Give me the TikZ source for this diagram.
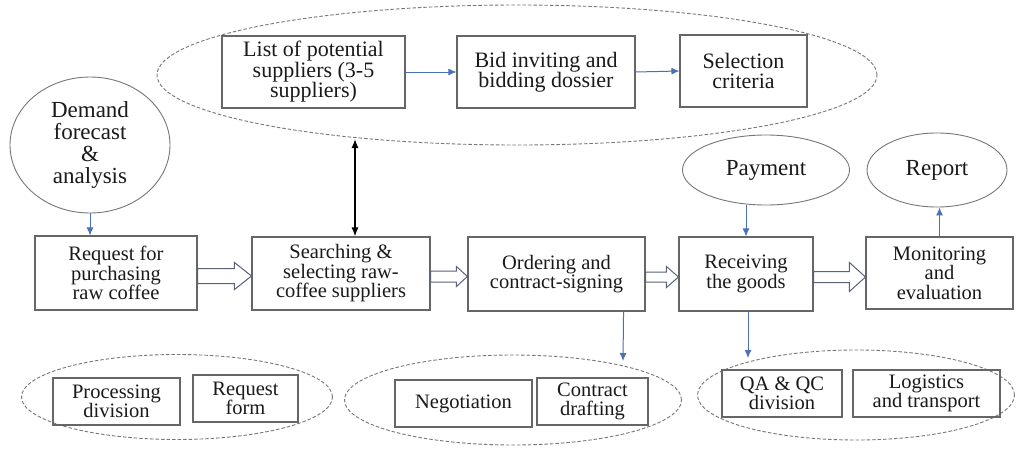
\documentclass[tikz,border=0pt]{standalone}
\usepackage{fontspec}
\setmainfont{Liberation Serif}
\usetikzlibrary{shapes.geometric,arrows.meta,calc}
\definecolor{boxline}{HTML}{666666}
\definecolor{ellline}{HTML}{777777}
\definecolor{arrblue}{HTML}{4A70B5}
\definecolor{harline}{HTML}{5A6278}
\definecolor{txt}{HTML}{1A1A1A}
\tikzset{
  box/.style={draw=boxline, line width=1.1pt, rectangle, inner sep=0pt, align=center,
    font=\fontsize{20.5}{19.5}\selectfont, text=txt},
  topbox/.style={box, font=\fontsize{22}{20.5}\selectfont},
  oval/.style={draw=ellline, line width=0.9pt, ellipse, inner sep=0pt, align=center,
    font=\fontsize{23}{21}\selectfont, text=txt},
  grp/.style={draw=ellline, line width=0.9pt, dash pattern=on 3.5pt off 2pt, ellipse, inner sep=0pt},
  dn/.style={execute at begin node={\rule{0pt}{#1}}},
  bluearr/.style={draw=arrblue, line width=1pt, -{Latex[length=8pt,width=7pt]}},
  blackarr/.style={draw=black, line width=1.3pt, {Latex[length=9pt,width=7pt]}-{Latex[length=9pt,width=7pt]}},
  harr/.style={draw=harline, line width=1pt, fill=white},
}
\newcommand\harrow[5]{%
  \path[harr] let \p1=(#1.east), \p2=(#2.west) in
   (\x1,\y1-3pt+#4) -- (\x2-#3,\y1-3pt+#4) -- (\x2-#3,\y1-3pt+#5) -- (\x2,\y1-3pt)
   -- (\x2-#3,\y1-3pt-#5) -- (\x2-#3,\y1-3pt-#4) -- (\x1,\y1-3pt-#4) -- cycle;}
\begin{document}
\begin{tikzpicture}[x=1pt,y=-1pt]
\useasboundingbox (0,0) rectangle (1017,450);
\fill[white] (0,0) rectangle (1017,450);

% group ellipses
\node[grp, minimum width=720pt, minimum height=140pt] (topgrp) at (517,75) {};
\node[grp, minimum width=311pt, minimum height=85pt] (bot1) at (177,397) {};
\node[grp, minimum width=337pt, minimum height=90pt] (bot2) at (513,400) {};
\node[grp, minimum width=317pt, minimum height=90pt] (bot3) at (856,395) {};

% top boxes
\node[topbox, dn=21pt, minimum width=183pt, minimum height=72pt] (list) at (313.5,72) {List of potential\\suppliers (3-5\\suppliers)};
\node[topbox, minimum width=178pt, minimum height=72pt] (bid) at (546,72) {Bid inviting and\\bidding dossier};
\node[topbox, minimum width=127pt, minimum height=72pt] (sel) at (743.5,71) {Selection\\criteria};

% ovals
\node[oval, dn=19pt, minimum width=160pt, minimum height=136pt, font=\fontsize{23}{22}\selectfont] (demand) at (90,145) {Demand\\forecast\\\&\\analysis};
\node[oval, minimum width=167pt, minimum height=70pt] (payment) at (766,170) {Payment};
\node[oval, minimum width=140pt, minimum height=74pt] (report) at (937,170) {Report};

% main process boxes
\node[box, minimum width=162pt, minimum height=74pt] (request) at (116,273) {Request for\\purchasing\\raw coffee};
\node[box, dn=17pt, minimum width=178pt, minimum height=73pt] (search) at (341,273.5) {Searching \&\\selecting raw-\\coffee suppliers};
\node[box, dn=20pt, minimum width=177pt, minimum height=74pt] (order) at (556.5,274) {Ordering and\\contract-signing};
\node[box, dn=21pt, minimum width=134pt, minimum height=74pt] (recv) at (746,274) {Receiving\\the goods};
\node[box, dn=17pt, minimum width=147pt, minimum height=72pt] (monitor) at (939.5,273) {Monitoring\\and\\evaluation};

% bottom boxes
\node[box, dn=21pt, minimum width=127pt, minimum height=47pt] (proc) at (116.5,401.5) {Processing\\division};
\node[box, dn=21pt, minimum width=105pt, minimum height=47pt] (reqform) at (245.5,398.5) {Request\\form};
\node[box, minimum width=137pt, minimum height=47pt] (nego) at (463.5,403.5) {Negotiation};
\node[box, dn=23pt, minimum width=111pt, minimum height=47pt] (draft) at (592.5,401.5) {Contract\\drafting};
\node[box, dn=20pt, minimum width=120pt, minimum height=47pt] (qa) at (782,393.5) {QA \& QC\\division};
\node[box, dn=20pt, minimum width=147pt, minimum height=47pt] (logi) at (926.5,393.5) {Logistics\\and transport};

% blue connectors
\draw[bluearr] (list.east) -- (bid.west);
\draw[bluearr] (bid.east) -- (sel.west);
\draw[bluearr] (demand.south) -- (demand.south |- request.north);
\draw[bluearr] (recv.north |- payment.south) -- (recv.north);
\draw[bluearr] (monitor.north) -- (monitor.north |- report.south);
\coordinate (oa) at ($(order.south east)+(-22,0)$);
\coordinate (ob) at (623,361);
\draw[bluearr] (oa) -- (ob);
\coordinate (rb) at (748,358);
\draw[bluearr] (recv.south -| rb) -- (rb);

% black double arrow
\coordinate (dtop) at (355,139);
\draw[blackarr] (dtop) -- (dtop |- search.north);

% hollow arrows
\harrow{request}{search}{17pt}{7.5pt}{13.5pt}
\harrow{search}{order}{11pt}{5.5pt}{10pt}
\harrow{order}{recv}{12pt}{5pt}{10.5pt}
\harrow{recv}{monitor}{16pt}{5.5pt}{14.5pt}
\end{tikzpicture}
\end{document}
